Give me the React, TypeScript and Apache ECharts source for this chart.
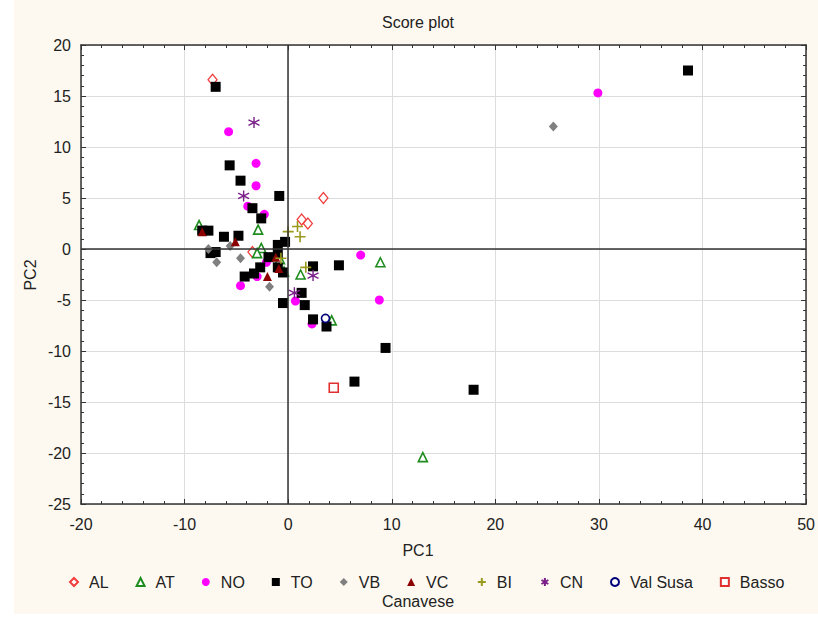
import React, { useEffect, useRef } from "react";
import * as echarts from "echarts";

const xTicks = { min: -20, max: 50, interval: 10 };
const yTicks = { min: -25, max: 20, interval: 5 };

const AL = [[-7.3, 16.6], [3.4, 5.0], [1.3, 2.9], [1.9, 2.5], [-3.45, -0.3]];
const AT = [[-8.6, 2.35], [-2.9, 1.9], [-2.6, 0.1], [-3.0, -0.4], [-0.8, -1.0], [-0.4, -2.2], [1.2, -2.5], [4.2, -7.0], [8.9, -1.3], [13.0, -20.4]];
const NO = [[-5.75, 11.5], [-3.1, 8.4], [-3.1, 6.2], [-3.9, 4.2], [-2.3, 3.4], [29.9, 15.3], [7.0, -0.6], [8.8, -5.0], [-4.6, -3.6], [-2.1, -1.3], [0.7, -5.1], [2.3, -7.35], [-3.0, -2.7]];
const TO = [[-7.0, 15.9], [38.6, 17.5], [-5.65, 8.2], [-4.6, 6.7], [-0.86, 5.2], [-3.45, 4.0], [-2.6, 3.0], [-8.3, 1.8], [-7.7, 1.8], [-6.2, 1.2], [-4.8, 1.3], [-7.5, -0.4], [-7.0, -0.3], [-1.0, 0.4], [-0.3, 0.7], [-1.0, -0.4], [-1.9, -0.8], [-2.7, -1.8], [-3.3, -2.4], [-4.2, -2.7], [-1.0, -1.8], [-0.5, -2.3], [2.4, -1.7], [4.9, -1.6], [1.3, -4.3], [-0.5, -5.3], [1.6, -5.5], [2.4, -6.9], [3.7, -7.6], [6.4, -13.0], [9.4, -9.7], [17.9, -13.8]];
const VB = [[25.6, 12.0], [-6.9, -1.3], [-7.7, 0.0], [-5.6, 0.3], [-4.6, -0.9], [-1.8, -3.7]];
const VC = [[-8.3, 1.7], [-5.1, 0.7], [-2.0, -2.7], [-0.9, -1.9], [-1.2, -0.8]];
const BI = [[0.0, 1.7], [0.9, 2.2], [1.15, 1.2], [-0.7, -0.9], [1.7, -1.8]];
const CN = [[-3.3, 12.4], [-4.3, 5.2], [2.4, -2.6], [0.6, -4.3]];
const VAL_SUSA = [[3.6, -6.8]];
const BASSO = [[4.4, -13.6]];

const FONT = "'Liberation Sans', Arial, sans-serif";

const PLUS = "path://M5 0L5 10M0 5L10 5";
const STAR = "path://M5 0L5 10M0.7 2.5L9.3 7.5M0.7 7.5L9.3 2.5";

export default function App() {
  const ref = useRef<HTMLDivElement>(null);
  useEffect(() => {
    if (!ref.current) return;
    const chart = echarts.init(ref.current, undefined, { renderer: "svg" });
    const open = (c: string, w = 1.3) => ({ color: "#fff", borderColor: c, borderWidth: w, opacity: 1 });
    const series: any[] = [
      { name: "AL", data: AL, symbol: "diamond", symbolSize: [9, 11], itemStyle: open("#f03c3c") },
      { name: "AT", data: AT, symbol: "triangle", symbolSize: 9, itemStyle: open("#1e8c1e", 1.6) },
      { name: "NO", data: NO, symbol: "circle", symbolSize: 9, itemStyle: { color: "#ff00ff", opacity: 1 } },
      {
        name: "TO", data: TO, symbol: "rect", symbolSize: 10, itemStyle: { color: "#000", opacity: 1 },
        markLine: {
          silent: true, symbol: "none", label: { show: false },
          lineStyle: { color: "#333", width: 1.5, type: "solid" },
          data: [{ xAxis: 0 }, { yAxis: 0 }],
        },
      },
      { name: "VB", data: VB, symbol: "diamond", symbolSize: [9, 10], itemStyle: { color: "#808080", opacity: 1 } },
      { name: "VC", data: VC, symbol: "triangle", symbolSize: 9, itemStyle: { color: "#8b0000", opacity: 1 } },
      { name: "BI", data: BI, symbol: PLUS, symbolSize: 11, itemStyle: { color: "none", borderColor: "#9a9a1e", borderWidth: 1.6, opacity: 1 } },
      { name: "CN", data: CN, symbol: STAR, symbolSize: 11, itemStyle: { color: "none", borderColor: "#7a1f8a", borderWidth: 1.4, opacity: 1 } },
      { name: "Val Susa", data: VAL_SUSA, symbol: "circle", symbolSize: 8, itemStyle: open("#00007a", 1.6) },
      { name: "Basso Canavese", data: BASSO, symbol: "rect", symbolSize: 9, itemStyle: open("#e03030", 1.6) },
    ].map((s) => ({ type: "scatter", xAxisIndex: 0, yAxisIndex: 0, ...s }));

    const axisCommon = {
      axisLine: { show: true, onZero: false, lineStyle: { color: "#333", width: 1.5 } },
      axisTick: { show: true, inside: true, length: 5, lineStyle: { color: "#333" } },
      minorTick: { show: true, splitNumber: 5, length: 3, lineStyle: { color: "#333" } },
    };
    const label = { color: "#222", fontSize: 16, fontFamily: FONT, showMinLabel: true, showMaxLabel: true };

    chart.setOption({
      animation: false,
      backgroundColor: "transparent",
      grid: { left: 81, right: 6, top: 45, bottom: 114, show: true, backgroundColor: "#fff", borderWidth: 0 },
      xAxis: [
        { type: "value", ...xTicks, position: "bottom", ...axisCommon, splitLine: { show: true, lineStyle: { color: "#dcdcdc" } }, axisLabel: { ...label, margin: 12 } },
        { type: "value", ...xTicks, position: "top", ...axisCommon, splitLine: { show: false }, axisLabel: { show: false } },
      ],
      yAxis: [
        { type: "value", ...yTicks, position: "left", ...axisCommon, splitLine: { show: true, lineStyle: { color: "#dcdcdc" } }, axisLabel: { ...label, margin: 10 } },
        { type: "value", ...yTicks, position: "right", ...axisCommon, splitLine: { show: false }, axisLabel: { show: false } },
      ],
      legend: {
        left: 64, top: 569, orient: "horizontal",
        itemWidth: 8, itemHeight: 8, itemGap: 27,
        textStyle: { color: "#222", fontSize: 16, fontFamily: FONT, padding: [0, 0, 0, 6] },
        formatter: (n: string) => (n === "Basso Canavese" ? "Basso" : n),
      },
      graphic: [
        { type: "text", x: 418, y: 22, style: { text: "Score plot", fill: "#222", font: `16px ${FONT}`, textAlign: "center", textVerticalAlign: "middle" } },
        { type: "text", x: 418, y: 550, style: { text: "PC1", fill: "#222", font: `16px ${FONT}`, textAlign: "center", textVerticalAlign: "middle" } },
        { type: "text", x: 30, y: 275, rotation: Math.PI / 2, style: { text: "PC2", fill: "#222", font: `16px ${FONT}`, textAlign: "center", textVerticalAlign: "middle" } },
        { type: "text", x: 418, y: 601, style: { text: "Canavese", fill: "#222", font: `16px ${FONT}`, textAlign: "center", textVerticalAlign: "middle" } },
      ],
      series,
    });
    return () => chart.dispose();
  }, []);
  return (
    <div style={{ position: "fixed", left: 0, top: 0, width: 818, height: 618, background: "#fff" }}>
      <div style={{ position: "absolute", left: 14, top: 0, width: 804, height: 614, background: "#fdf9f0" }} />
      <div ref={ref} style={{ position: "absolute", left: 0, top: 0, width: 818, height: 618 }} />
    </div>
  );
}
